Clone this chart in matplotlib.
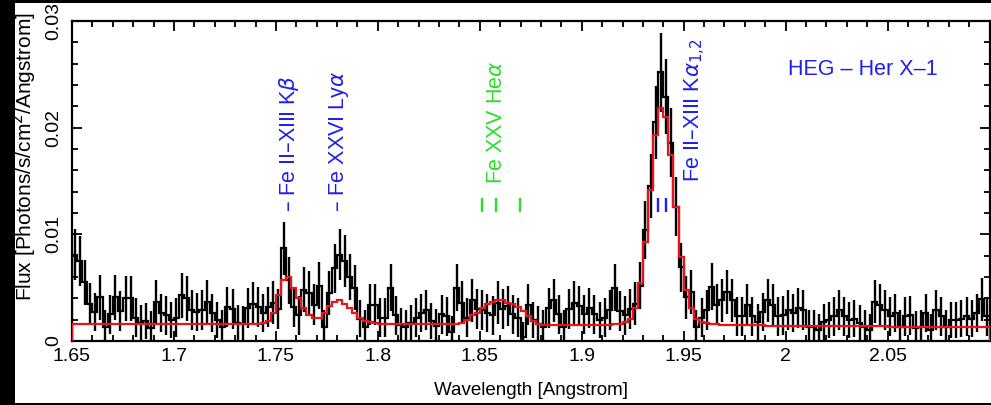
import matplotlib
matplotlib.use("Agg")
import matplotlib.pyplot as plt
import numpy as np
from matplotlib.patches import Rectangle
from matplotlib.ticker import MultipleLocator

plt.rcParams['font.family'] = ['Liberation Sans', 'DejaVu Sans']

# HEG spectrum binning (Angstrom)
bin_lo = 1.65
bin_width = 0.0025

# measured flux per bin, photons/s/cm^2/Angstrom (10 bins per row)
flux = [
    0.0081, 0.0075, 0.0055, 0.0035, 0.0027, 0.0041, 0.0013, 0.0025, 0.0041, 0.0028,
    0.0040, 0.0040, 0.0022, 0.0017, 0.0019, 0.0012, 0.0037, 0.0026, 0.0024, 0.0020,
    0.0022, 0.0043, 0.0040, 0.0029, 0.0027, 0.0029, 0.0037, 0.0026, 0.0020, 0.0013,
    0.0032, 0.0030, 0.0017, 0.0016, 0.0031, 0.0035, 0.0032, 0.0026, 0.0032, 0.0036,
    0.0030, 0.0087, 0.0057, 0.0032, 0.0024, 0.0048, 0.0045, 0.0034, 0.0052, 0.0013,
    0.0045, 0.0068, 0.0081, 0.0075, 0.0060, 0.0050, 0.0021, 0.0013, 0.0034, 0.0034,
    0.0022, 0.0022, 0.0050, 0.0024, 0.0015, 0.0013, 0.0017, 0.0022, 0.0026, 0.0029,
    0.0019, 0.0014, 0.0025, 0.0023, 0.0008, 0.0050, 0.0036, 0.0022, 0.0038, 0.0030,
    0.0029, 0.0026, 0.0024, 0.0036, 0.0030, 0.0033, 0.0025, 0.0022, 0.0004, 0.0034,
    0.0020, 0.0016, 0.0013, 0.0031, 0.0038, 0.0025, 0.0013, 0.0030, 0.0036, 0.0033,
    0.0025, 0.0031, 0.0025, 0.0020, 0.0022, 0.0029, 0.0050, 0.0028, 0.0024, 0.0030,
    0.0035, 0.0052, 0.0104, 0.0145, 0.0205, 0.0252, 0.0229, 0.0186, 0.0126, 0.0069,
    0.0041, 0.0046, 0.0013, 0.0022, 0.0029, 0.0051, 0.0034, 0.0038, 0.0046, 0.0038,
    0.0023, 0.0023, 0.0034, 0.0023, 0.0018, 0.0027, 0.0038, 0.0034, 0.0023, 0.0024,
    0.0029, 0.0026, 0.0031, 0.0029, 0.0013, 0.0013, 0.0010, 0.0018, 0.0020, 0.0023,
    0.0029, 0.0023, 0.0020, 0.0021, 0.0017, 0.0013, 0.0010, 0.0037, 0.0034, 0.0029,
    0.0023, 0.0026, 0.0013, 0.0023, 0.0024, 0.0012, 0.0013, 0.0026, 0.0010, 0.0029,
    0.0023, 0.0013, 0.0020, 0.0020, 0.0021, 0.0023, 0.0021, 0.0026, 0.0039, 0.0023,
]

flux_err = [
    0.0024, 0.0023, 0.0021, 0.0019, 0.0018, 0.0021, 0.0016, 0.0018, 0.0021, 0.0019,
    0.0021, 0.0021, 0.0018, 0.0017, 0.0017, 0.0016, 0.0020, 0.0018, 0.0018, 0.0017,
    0.0018, 0.0021, 0.0021, 0.0019, 0.0018, 0.0019, 0.0020, 0.0018, 0.0017, 0.0016,
    0.0019, 0.0019, 0.0017, 0.0017, 0.0019, 0.0020, 0.0019, 0.0018, 0.0019, 0.0020,
    0.0019, 0.0025, 0.0022, 0.0019, 0.0018, 0.0021, 0.0021, 0.0019, 0.0022, 0.0016,
    0.0021, 0.0023, 0.0024, 0.0024, 0.0022, 0.0021, 0.0017, 0.0016, 0.0019, 0.0019,
    0.0018, 0.0018, 0.0022, 0.0018, 0.0016, 0.0016, 0.0017, 0.0018, 0.0018, 0.0019,
    0.0017, 0.0016, 0.0018, 0.0018, 0.0015, 0.0022, 0.0020, 0.0018, 0.0020, 0.0019,
    0.0019, 0.0018, 0.0018, 0.0020, 0.0019, 0.0019, 0.0018, 0.0018, 0.0014, 0.0019,
    0.0017, 0.0017, 0.0016, 0.0019, 0.0020, 0.0018, 0.0016, 0.0019, 0.0020, 0.0019,
    0.0018, 0.0019, 0.0018, 0.0017, 0.0018, 0.0019, 0.0022, 0.0019, 0.0018, 0.0019,
    0.0020, 0.0022, 0.0027, 0.0030, 0.0034, 0.0037, 0.0035, 0.0032, 0.0028, 0.0023,
    0.0020, 0.0021, 0.0016, 0.0018, 0.0019, 0.0022, 0.0019, 0.0020, 0.0021, 0.0020,
    0.0018, 0.0018, 0.0019, 0.0018, 0.0017, 0.0018, 0.0020, 0.0019, 0.0018, 0.0018,
    0.0019, 0.0018, 0.0019, 0.0019, 0.0016, 0.0016, 0.0015, 0.0017, 0.0017, 0.0018,
    0.0019, 0.0018, 0.0017, 0.0017, 0.0017, 0.0016, 0.0015, 0.0020, 0.0019, 0.0019,
    0.0018, 0.0018, 0.0016, 0.0018, 0.0018, 0.0016, 0.0016, 0.0018, 0.0015, 0.0019,
    0.0018, 0.0016, 0.0017, 0.0017, 0.0017, 0.0018, 0.0017, 0.0018, 0.0020, 0.0018,
]

# fitted model, same bins
model = [
    0.0016, 0.0016, 0.0016, 0.0016, 0.0016, 0.0016, 0.0016, 0.0016, 0.0016, 0.0016,
    0.0016, 0.0016, 0.0016, 0.0016, 0.0016, 0.0016, 0.0016, 0.0016, 0.0016, 0.0016,
    0.0016, 0.0016, 0.0016, 0.0016, 0.0016, 0.0016, 0.0016, 0.0016, 0.0016, 0.0016,
    0.0016, 0.0016, 0.0016, 0.0016, 0.0016, 0.0016, 0.0016, 0.0017, 0.0019, 0.0026,
    0.0043, 0.0057, 0.0060, 0.0050, 0.0040, 0.0031, 0.0024, 0.0022, 0.0022, 0.0026,
    0.0033, 0.0037, 0.0038, 0.0035, 0.0031, 0.0026, 0.0022, 0.0019, 0.0018, 0.0017,
    0.0016, 0.0016, 0.0016, 0.0016, 0.0016, 0.0016, 0.0016, 0.0016, 0.0016, 0.0016,
    0.0016, 0.0016, 0.0016, 0.0016, 0.0016, 0.0016, 0.0017, 0.0020, 0.0024, 0.0026,
    0.0031, 0.0035, 0.0037, 0.0038, 0.0038, 0.0036, 0.0035, 0.0032, 0.0028, 0.0023,
    0.0019, 0.0016, 0.0015, 0.0015, 0.0015, 0.0015, 0.0015, 0.0015, 0.0015, 0.0015,
    0.0015, 0.0015, 0.0015, 0.0015, 0.0015, 0.0015, 0.0016, 0.0016, 0.0018, 0.0021,
    0.0031, 0.0054, 0.0093, 0.0142, 0.0193, 0.0218, 0.0210, 0.0174, 0.0126, 0.0079,
    0.0048, 0.0031, 0.0021, 0.0018, 0.0017, 0.0016, 0.0016, 0.0015, 0.0015, 0.0015,
    0.0015, 0.0015, 0.0015, 0.0015, 0.0015, 0.0015, 0.0014, 0.0014, 0.0014, 0.0014,
    0.0014, 0.0014, 0.0014, 0.0014, 0.0014, 0.0014, 0.0014, 0.0014, 0.0014, 0.0014,
    0.0014, 0.0014, 0.0014, 0.0014, 0.0014, 0.0014, 0.0014, 0.0014, 0.0014, 0.0014,
    0.0013, 0.0013, 0.0013, 0.0013, 0.0013, 0.0013, 0.0013, 0.0013, 0.0013, 0.0013,
    0.0013, 0.0013, 0.0013, 0.0013, 0.0013, 0.0013, 0.0013, 0.0013, 0.0013, 0.0013,
]

# line identifications: (wavelength, label)
blue_labels = [(1.7562, "– Fe II–XIII K$\\beta$"), (1.7810, "– Fe XXVI Ly$\\alpha$")]
he_label = (1.8582, "Fe XXV He$\\alpha$")
he_ticks = [1.8513, 1.8582, 1.8695]
ka_label = (1.9556, "Fe II–XIII K$\\alpha_{1{,}2}$")
ka_ticks = [1.9374, 1.9414]

blue = "#1f1fee"
green = "#2edc2e"
label_size = 15.5

edges = bin_lo + bin_width * np.arange(len(flux) + 1)
centers = 0.5 * (edges[:-1] + edges[1:])

fig = plt.figure(figsize=(9.91, 4.05), dpi=100)
fig.patch.set_facecolor("white")
ax = fig.add_axes([72 / 991, 64 / 405, 917.5 / 991, 320 / 405])

ax.stairs(flux, edges, color="black", lw=1.6, zorder=2)
ax.errorbar(centers, flux, yerr=flux_err, fmt="none", ecolor="black",
            elinewidth=1.7, capsize=0, zorder=2)
ax.stairs(model, edges, color="#e8141c", lw=1.6, zorder=3)

for x, s in blue_labels:
    ax.text(x, 0.0121, s, rotation=90, ha="center", va="bottom", color=blue,
            fontsize=label_size)
ax.text(he_label[0], 0.0147, he_label[1], rotation=90, ha="center", va="bottom",
        color=green, fontsize=label_size)
ax.vlines(he_ticks, 0.0121, 0.0134, color=green, lw=1.7)
ax.text(ka_label[0], 0.0149, ka_label[1], rotation=90, ha="center", va="bottom",
        color=blue, fontsize=label_size)
ax.vlines(ka_ticks, 0.0121, 0.0134, color=blue, lw=1.7)
ax.text(2.001, 0.0255, "HEG – Her X–1", color=blue, fontsize=label_size,
        ha="left", va="center")

ax.set_xlim(1.65, 2.1)
ax.set_ylim(0, 0.03)
ax.xaxis.set_minor_locator(MultipleLocator(0.01))
ax.yaxis.set_minor_locator(MultipleLocator(0.002))
ax.set_xticks([1.65, 1.7, 1.75, 1.8, 1.85, 1.9, 1.95, 2.0, 2.05])
ax.set_xticklabels(["1.65", "1.7", "1.75", "1.8", "1.85", "1.9", "1.95", "2", "2.05"])
ax.set_yticks([0, 0.01, 0.02, 0.03])
ax.set_yticklabels(["0", "0.01", "0.02", "0.03"])
ax.tick_params(which="both", direction="in", top=True, right=True, width=1.3)
ax.tick_params(which="major", length=7, labelsize=14)
ax.tick_params(which="minor", length=4)
ax.tick_params(axis="x", pad=5)
ax.tick_params(axis="y", pad=7)
for lab in ax.get_yticklabels():
    lab.set_rotation(90)
    lab.set_va("center")
for sp in ax.spines.values():
    sp.set_linewidth(1.6)

ax.set_xlabel("Wavelength [Angstrom]", fontsize=13.5, labelpad=12)
ax.set_ylabel("Flux [Photons/s/cm$^2$/Angstrom]", fontsize=15)
ax.yaxis.set_label_coords(-33 / 917.5, 0.575)

# black frame around the white page
for r in [(0, 0, 15 / 991, 1), (0, 1 - 3 / 405, 1, 3 / 405), (0, 0, 1, 2.5 / 405)]:
    fig.add_artist(Rectangle(r[:2], r[2], r[3], transform=fig.transFigure,
                             facecolor="black", edgecolor="none", zorder=10))

fig.savefig("out.png", dpi=100)
